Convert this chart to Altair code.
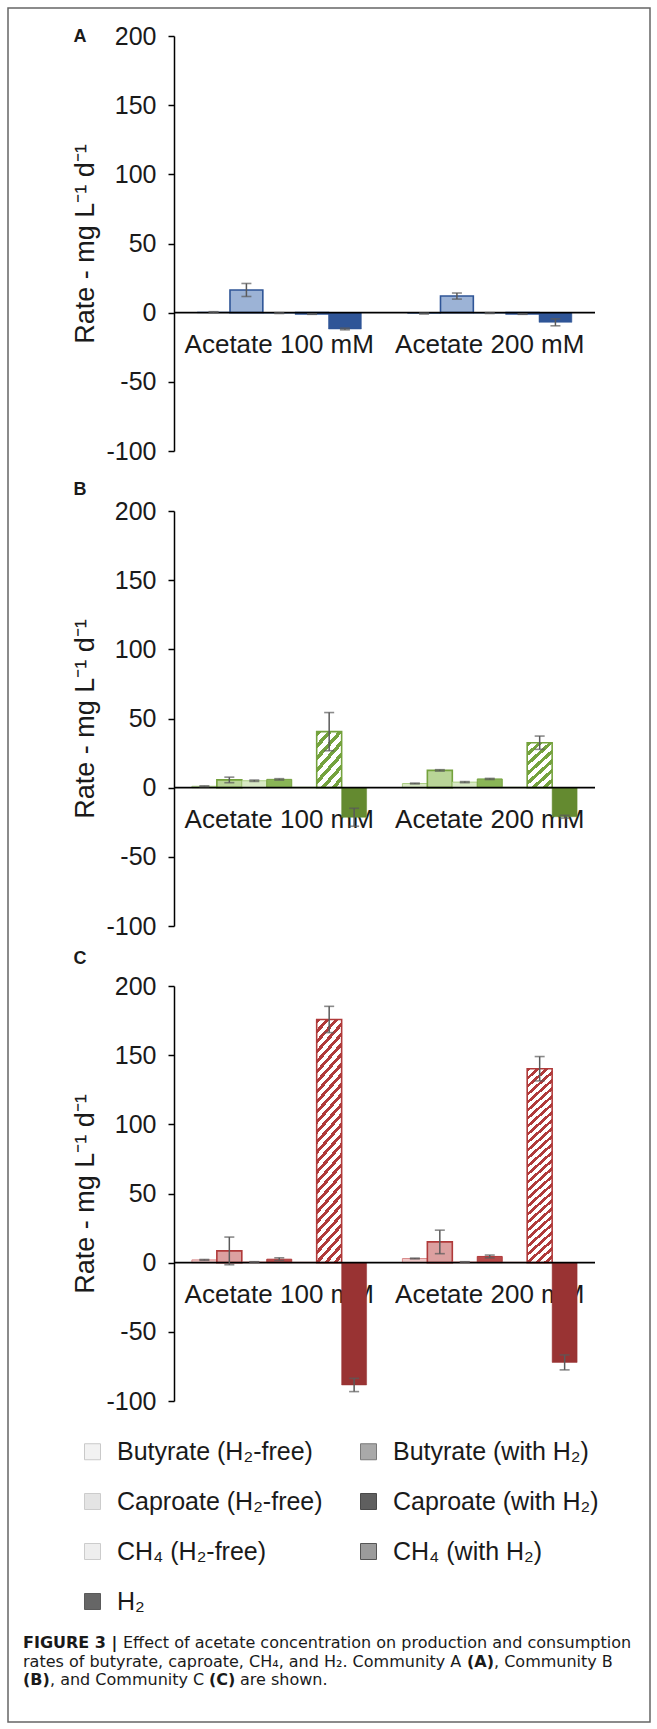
import altair as alt
import pandas as pd

FONT = "Liberation Sans"
CAP_FONT = "DejaVu Sans"
TXT = "#1a1a1a"

GROUPS = ["Acetate 100 mM", "Acetate 200 mM"]
SERIES = ["Butyrate (H₂-free)", "Butyrate (with H₂)", "Caproate (H₂-free)",
          "Caproate (with H₂)", "CH₄ (H₂-free)", "CH₄ (with H₂)", "H₂"]
A_SERIES = ["Butyrate (H₂-free)", "Butyrate (with H₂)", "CH₄ (H₂-free)", "CH₄ (with H₂)", "H₂"]

# Community A
A_100 = [0.4, 16.4, -0.3, -1.0, -11.8]
A_100_err = [0.3, 4.7, 0.3, 0.2, 0.6]
A_200 = [-0.6, 12.0, -0.3, -1.0, -7.0]
A_200_err = [0.4, 2.2, 0.3, 0.2, 2.5]
# Community B
B_100 = [1.0, 5.6, 5.0, 6.0, 0.3, 40.5, -21.4]
B_100_err = [0.3, 2.0, 0.5, 0.5, 0.0, 13.8, 6.5]
B_200 = [3.0, 12.5, 4.0, 6.3, 0.3, 32.5, -21.0]
B_200_err = [0.3, 0.5, 0.4, 0.4, 0.0, 4.8, 1.0]
# Community C
C_100 = [2.0, 8.5, 0.5, 2.5, 0.3, 175.8, -88.4]
C_100_err = [0.3, 10.0, 0.2, 1.0, 0.0, 9.5, 4.8]
C_200 = [3.0, 15.0, 0.5, 4.5, 0.3, 140.2, -72.1]
C_200_err = [0.3, 8.5, 0.2, 1.0, 0.0, 8.8, 5.4]

Y_TICKS = [-100, -50, 0, 50, 100, 150, 200]
Y_TITLE = "Rate - mg L⁻¹ d⁻¹"

LEG_FILL = ["#f2f2f2", "#a9a9a9", "#e4e4e4", "#5f5f5f", "#eeeeee", "#9b9b9b", "#666666"]
LEG_STROKE = ["#c9c9c9", "#7a7a7a", "#cccccc", "#4a4a4a", "#cccccc", "#555555", "#5a5a5a"]

PAL_A = dict(dark="#2f5597", solid="#2f5597", light="#c5d4ea", lstroke="#6f8fc0",
             dots="#9cb3d6", cap="#5b7fb4")
PAL_B = dict(dark="#74a23d", solid="#648a30", light="#d8e9c4", lstroke="#a9cc83",
             dots="#b9d597", cap="#89b556")
PAL_C = dict(dark="#b03a3a", solid="#993333", light="#f2caca", lstroke="#d98c8c",
             dots="#dca0a0", cap="#b94a4a")

PLOT_W, PLOT_H = 421, 415
ZERO_OFFSET = -PLOT_H * 100 / 300


def hatch(color, n, h_over_w):
    stops = []
    duty = 0.45
    for k in range(n):
        a, b, c = k / n, (k + duty) / n, (k + 1) / n
        stops += [{"offset": a, "color": color}, {"offset": b, "color": color},
                  {"offset": b, "color": "#ffffff"}, {"offset": c, "color": "#ffffff"}]
    a0, b0 = 1.0 / h_over_w, 1.0
    k = (a0 + b0) / (a0 ** 2 + b0 ** 2)
    return {"gradient": "linear", "stops": stops, "x1": 0, "y1": 0,
            "x2": round(a0 * k, 4), "y2": round(b0 * k, 4)}


def styles(pal, hatch_fill):
    return {
        "Butyrate (H₂-free)": (pal["light"], pal["lstroke"], 1),
        "Butyrate (with H₂)": (pal["dots"], pal["dark"], 1.6),
        "Caproate (H₂-free)": (pal["light"], pal["lstroke"], 1),
        "Caproate (with H₂)": (pal["cap"], pal["dark"], 1),
        "CH₄ (H₂-free)": (pal["light"], pal["lstroke"], 1),
        "CH₄ (with H₂)": (hatch_fill, pal["dark"], 1.6),
        "H₂": (pal["solid"], pal["solid"], 0.5),
    }


def panel(letter, series, v1, e1, v2, e2, pal, pad_inner, hatch_fill, label_dy, extra=()):
    rows = []
    for g, vals, errs in ((GROUPS[0], v1, e1), (GROUPS[1], v2, e2)):
        for s, v, e in zip(series, vals, errs):
            rows.append(dict(group=g, series=s, value=v, lo=v - e, hi=v + e, err=e))
    df = pd.DataFrame(rows)

    x_enc = alt.X("group:N", sort=GROUPS, title=None,
                  scale=alt.Scale(domain=GROUPS, paddingInner=pad_inner, paddingOuter=pad_inner / 2),
                  axis=alt.Axis(orient="bottom", offset=ZERO_OFFSET, domain=False, ticks=False,
                                tickSize=0, labelFontSize=26, labelFont=FONT, labelColor=TXT,
                                labelPadding=19, labelAngle=0, labelLimit=400))
    xo = alt.XOffset("series:N", sort=series,
                     scale=alt.Scale(domain=series, paddingInner=0, paddingOuter=0))
    yscale = alt.Scale(domain=[-100, 200], nice=False)
    yaxis = alt.Axis(values=Y_TICKS, grid=False, domainColor="black", domainWidth=1.5,
                     tickColor="black", tickWidth=1.5, tickSize=6, labelFontSize=25,
                     labelFont=FONT, labelColor=TXT, labelPadding=12, labelFlush=False,
                     labelOverlap=False, labelExpr="'' + datum.value",
                     titleFontSize=27, titleFont=FONT, titleFontWeight="normal",
                     titleColor=TXT, titlePadding=6)

    def Y(field):
        return alt.Y(f"{field}:Q", scale=yscale, axis=yaxis, title=Y_TITLE)

    st = styles(pal, hatch_fill)
    layers = []
    for s in series:
        fill, stroke, sw = st[s]
        layers.append(alt.Chart(df).transform_filter(alt.datum.series == s)
                      .mark_bar(fill=fill, stroke=stroke, strokeWidth=sw)
                      .encode(x=x_enc, xOffset=xo, y=Y("value")))
    zero = alt.Chart(pd.DataFrame({"z": [0]})).mark_rule(color="black", strokeWidth=1.6).encode(y=Y("z"))
    ebase = alt.Chart(df).transform_filter(alt.datum.err > 0)
    rule = ebase.mark_rule(color="#5a5a5a", strokeWidth=1.5).encode(
        x=x_enc, xOffset=xo, y=Y("lo"), y2="hi:Q")
    cap_lo = ebase.mark_tick(color="#5a5a5a", thickness=1.6, size=10).encode(x=x_enc, xOffset=xo, y=Y("lo"))
    cap_hi = ebase.mark_tick(color="#5a5a5a", thickness=1.6, size=10).encode(x=x_enc, xOffset=xo, y=Y("hi"))
    lab = alt.Chart(pd.DataFrame({"t": [letter]})).mark_text(
        font=FONT, fontSize=18, fontWeight="bold", color=TXT, align="center", baseline="middle"
    ).encode(text="t:N", x=alt.value(-94), y=alt.value(label_dy))
    return alt.layer(*layers, zero, rule, cap_lo, cap_hi, lab, *extra).properties(
        width=PLOT_W, height=PLOT_H)


LEGEND = alt.Legend(orient="none", legendX=-94, legendY=453, columns=2, direction="horizontal",
                    columnPadding=33, rowPadding=24, symbolType="square",
                    symbolSize=256, symbolStrokeWidth=1, symbolOpacity=1,
                    labelFontSize=25, labelFont=FONT, labelColor=TXT,
                    labelOffset=12, labelLimit=400, title=None, padding=0)

# legend (grey swatches) placed under panel C
legend_layer = alt.Chart(pd.DataFrame({"series": SERIES})).transform_filter("false").mark_square().encode(
    fill=alt.Fill("series:N", sort=SERIES, scale=alt.Scale(domain=SERIES, range=LEG_FILL), legend=LEGEND),
    stroke=alt.Stroke("series:N", sort=SERIES, scale=alt.Scale(domain=SERIES, range=LEG_STROKE), legend=LEGEND),
)

# caption runs: (text, bold, x, y) in pixels relative to panel C plot origin
CAP_X0, CAP_Y0 = -151, 657
CAPTION = [
    ("FIGURE 3 |", True, 0, 0),
    ("Effect of acetate concentration on production and consumption", False, 100, 0),
    ("rates of butyrate, caproate, CH₄, and H₂. Community A", False, 0, 19),
    ("(A)", True, 444, 19),
    (", Community B", False, 471, 19),
    ("(B)", True, 0, 37),
    (", and Community C", False, 27, 37),
    ("(C)", True, 186, 37),
    ("are shown.", False, 217, 37),
]
cap_layers = []
for text, bold, dx, dy in CAPTION:
    cap_layers.append(
        alt.Chart(pd.DataFrame({"t": [text]})).mark_text(
            font=CAP_FONT, fontSize=16, fontWeight="bold" if bold else "normal", color=TXT,
            align="left", baseline="middle"
        ).encode(text="t:N", x=alt.value(CAP_X0 + dx), y=alt.value(CAP_Y0 + dy))
    )

# thin grey frame round the whole figure (relative to panel A plot origin)
frame = alt.Chart(pd.DataFrame({"f": [0]})).mark_rect(
    fill="transparent", stroke="#666666", strokeWidth=1.5
).encode(x=alt.value(-166), x2=alt.value(476), y=alt.value(-28), y2=alt.value(1686))

pA = panel("A", A_SERIES, A_100, A_100_err, A_200, A_200_err, PAL_A, 0.22,
           hatch(PAL_A["dark"], 2, 1.0), 1, extra=[frame])
pB = panel("B", SERIES, B_100, B_100_err, B_200, B_200_err, PAL_B, 0.17,
           hatch(PAL_B["dark"], 7, 2.0), -21)
pC = panel("C", SERIES, C_100, C_100_err, C_200, C_200_err, PAL_C, 0.17,
           hatch(PAL_C["dark"], 27, 8.7), -27, extra=[legend_layer, *cap_layers])

chart = alt.vconcat(pA, pB, pC, spacing=60, bounds="flush").resolve_scale(
    x="independent", y="independent", xOffset="independent",
    fill="independent", stroke="independent"
).resolve_legend(fill="independent", stroke="independent").properties(
    padding={"left": 7, "top": 7, "right": 6, "bottom": 6}, background="white"
).configure(font=FONT).configure_view(strokeWidth=0, stroke="transparent")

chart.save("out.html", embed_options={"renderer": "svg", "actions": False})
